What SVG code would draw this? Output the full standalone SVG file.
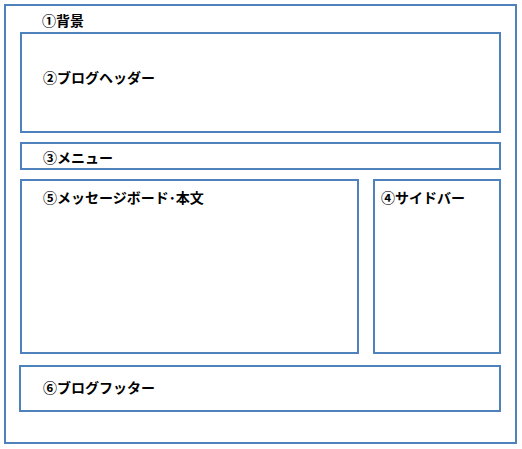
<svg xmlns="http://www.w3.org/2000/svg" width="522" height="449" viewBox="0 0 522 449">
<style>
.box{fill:#fff;stroke:#4F81BD;stroke-width:2}
.lbl{font-family:"Noto Sans CJK JP","Noto Sans CJK SC",sans-serif;font-size:14px;font-weight:bold;fill:#000}
</style>
<rect width="522" height="449" fill="#fff"/>
<g id="background">
<rect class="box" x="5" y="5" width="511" height="438"/>
<text class="lbl" x="42" y="26">①背景</text>
</g>
<g id="header">
<rect class="box" x="21" y="33" width="479" height="99"/>
<text class="lbl" x="43" y="83">②ブログヘッダー</text>
</g>
<g id="menu">
<rect class="box" x="21" y="143" width="479" height="26"/>
<text class="lbl" x="43" y="163">③メニュー</text>
</g>
<g id="main">
<rect class="box" x="21" y="180" width="337" height="173"/>
<text class="lbl" x="43" y="203">⑤メッセージボード･本文</text>
</g>
<g id="sidebar">
<rect class="box" x="374" y="180" width="126" height="173"/>
<text class="lbl" x="381" y="203">④サイドバー</text>
</g>
<g id="footer">
<rect class="box" x="20" y="366" width="480" height="45"/>
<text class="lbl" x="43" y="393">⑥ブログフッター</text>
</g>
<g id="connectors"/>
</svg>
